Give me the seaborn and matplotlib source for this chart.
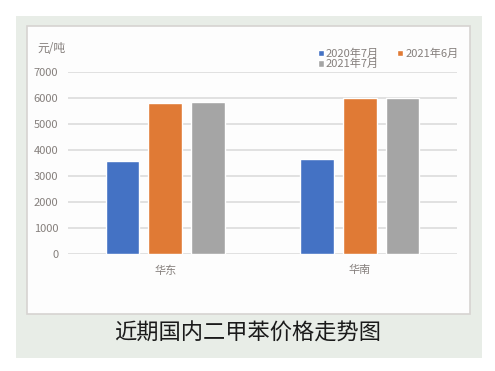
import matplotlib
matplotlib.use("Agg")
import matplotlib.pyplot as plt
from matplotlib.patches import Rectangle
import seaborn as sns
import pandas as pd

regions = ["华东", "华南"]
series = ["2020年7月", "2021年6月", "2021年7月"]
v_2020_07 = [3580, 3630]
v_2021_06 = [5780, 5970]
v_2021_07 = [5830, 5980]
yticks = [0, 1000, 2000, 3000, 4000, 5000, 6000, 7000]
unit_label = "元/吨"
caption = "近期国内二甲苯价格走势图"

colors = ["#4472C4", "#E07A35", "#A5A5A5"]

rows = []
for s, vals in zip(series, [v_2020_07, v_2021_06, v_2021_07]):
    for r, v in zip(regions, vals):
        rows.append({"region": r, "series": s, "value": v})
df = pd.DataFrame(rows)

sns.set_theme(style="white")
plt.rcParams["font.family"] = ["Noto Sans CJK SC", "DejaVu Sans"]

W, H = 495, 371
fig = plt.figure(figsize=(W / 100, H / 100), dpi=100)
fig.patch.set_facecolor("white")

def px_rect(x0, y0, x1, y1, **kw):
    fig.patches.append(Rectangle((x0 / W, 1 - y1 / H), (x1 - x0) / W, (y1 - y0) / H,
                                 transform=fig.transFigure, **kw))

px_rect(16, 16, 482, 358, facecolor="#E8EDE7", edgecolor="none", zorder=-2)
px_rect(27, 26, 470, 314, facecolor="#FDFDFD", edgecolor="#D6D3D1", linewidth=1.2, zorder=-1)

ax = fig.add_axes([68 / W, 1 - 254 / H, (457 - 68) / W, (254 - 71.5) / H])
ax.set_zorder(2)
ax.set_facecolor("none")
sns.barplot(data=df, x="region", y="value", hue="series", order=regions, hue_order=series,
            palette=colors, width=0.66, gap=0.21, saturation=1, ax=ax, legend=True)
ax.set_xlim(-0.5, 1.5)
ax.set_ylim(0, 7000)
ax.set_yticks(yticks)
ax.set_yticklabels([str(t) for t in yticks])
ax.yaxis.grid(True, color="#D9D9D9", linewidth=1.1)
ax.set_axisbelow(True)
for s in ax.spines.values():
    s.set_visible(False)
ax.set_xlabel("")
ax.set_ylabel("")
ax.tick_params(axis="both", length=0, labelsize=8, labelcolor="#857F7C", pad=7)
ax.tick_params(axis="x", pad=8)

handles, labels = ax.get_legend_handles_labels()
ax.legend_.remove()
order = [0, 2, 1]
leg = fig.legend([handles[i] for i in order], [labels[i] for i in order],
                 loc="upper left", bbox_to_anchor=(312 / W, 1 - 43 / H), ncol=2,
                 frameon=False, fontsize=8, handlelength=0.55, handleheight=0.55,
                 handletextpad=0.2, columnspacing=1.6, labelspacing=0.0, borderpad=0,
                 labelcolor="#857F7C")
leg.set_zorder(3)

fig.text(37 / W, 1 - 48 / H, unit_label, fontsize=8.5, color="#857F7C", va="center", ha="left")
fig.text(248 / W, 1 - 333 / H, caption, fontsize=16, color="#1A1A1A", va="center", ha="center")

fig.savefig("out.png", dpi=100, facecolor="white")
